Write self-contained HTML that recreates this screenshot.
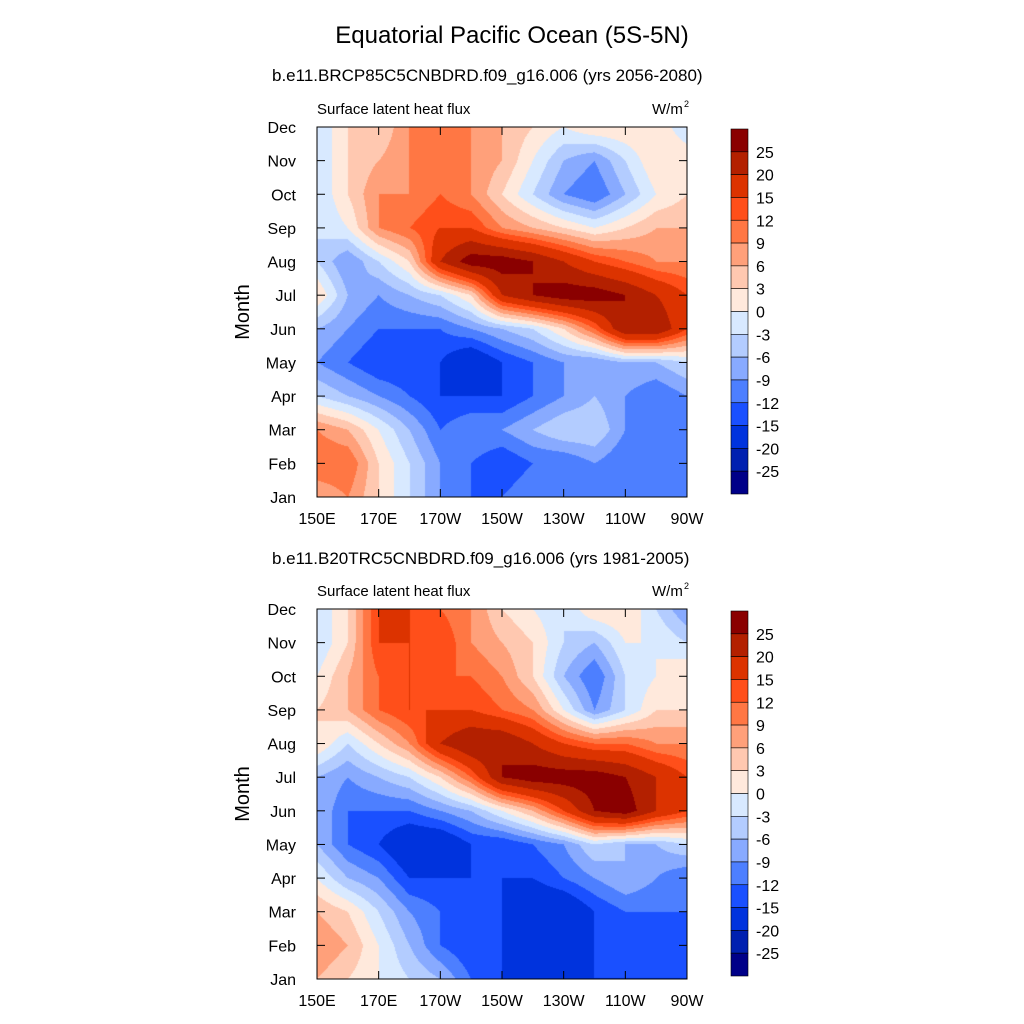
<!DOCTYPE html>
<html><head><meta charset="utf-8">
<style>
body{margin:0;background:#fff;font-family:"Liberation Sans",sans-serif;}
#root{position:relative;width:1024px;height:1024px;overflow:hidden;}
.t{position:absolute;white-space:nowrap;color:#000;}
canvas{position:absolute;}
svg{position:absolute;left:0;top:0;}
</style></head>
<body><div id="root">
<div class="t" style="left:0;width:1024px;text-align:center;top:22px;font-size:24px;">Equatorial Pacific Ocean (5S-5N)</div>
<div class="t" style="left:272px;top:66px;font-size:17px;">b.e11.BRCP85C5CNBDRD.f09_g16.006 (yrs 2056-2080)</div>
<div class="t" style="left:272px;top:549px;font-size:17px;">b.e11.B20TRC5CNBDRD.f09_g16.006 (yrs 1981-2005)</div>
<canvas id="c0" width="370" height="370" style="left:317px;top:127px"></canvas>
<canvas id="c1" width="370" height="370" style="left:317px;top:609px"></canvas>
<svg id="ov" width="1024" height="1024"></svg>
</div>
<script>
const months=["Jan","Feb","Mar","Apr","May","Jun","Jul","Aug","Sep","Oct","Nov","Dec"];
const lons=[150,160,170,180,190,200,210,220,230,240,250,260,270];
const xTickLons=[150,170,190,210,230,250,270];
const xTickLabels=["150E","170E","170W","150W","130W","110W","90W"];
const levels=[-25,-20,-15,-12,-9,-6,-3,0,3,6,9,12,15,20,25];
const levelLabels=["25","20","15","12","9","6","3","0","-3","-6","-9","-12","-15","-20","-25"];
const colors=["#000088","#0020b0","#0033dd","#1a50ff","#4d7fff","#88aaff","#b3ccff","#d8e9ff","#ffe9dc","#ffc8b0","#ffa07a","#ff7744","#ff4f1a","#dc3300","#b32000","#8a0000"];
const topValues=[
[6,9,3,-3,-9,-12,-12,-9,-12,-12,-12,-12,-9],
[12,12,3,-3,-9,-12,-15,-12,-12,-9,-12,-12,-9],
[9,6,0,-6,-12,-9,-9,-6,-3,-3,-9,-12,-9],
[-3,-6,-9,-12,-15,-15,-15,-12,-9,-6,-9,-12,-9],
[-9,-12,-15,-15,-15,-20,-15,-12,-9,-9,-6,-6,-3],
[-6,-9,-12,-12,-12,-9,-6,-3,3,12,25,25,15],
[3,-6,-9,-6,-3,3,20,25,28,28,25,20,15],
[-3,-9,-3,3,20,28,28,25,20,15,12,9,9],
[-3,0,9,12,15,15,9,6,3,0,3,6,6],
[-3,3,9,9,12,9,3,-3,-9,-12,-6,0,3],
[-3,3,6,9,12,9,6,0,-6,-9,-3,3,3],
[-3,3,3,9,12,9,6,3,0,3,3,3,-3]];
const bottomValues=[
[6,3,0,-3,-6,-12,-15,-15,-15,-15,-15,-15,-15],
[9,6,0,-6,-12,-15,-15,-20,-20,-15,-15,-15,-15],
[6,3,-3,-9,-12,-15,-15,-20,-20,-15,-12,-12,-12],
[0,-6,-9,-15,-15,-15,-15,-15,-12,-9,-6,-9,-12],
[-6,-12,-15,-20,-20,-15,-15,-12,-9,-3,-6,-6,-3],
[-6,-12,-12,-12,-9,-6,0,6,15,25,28,20,15],
[-6,-9,-6,-3,3,12,25,28,28,28,25,20,15],
[3,-3,3,9,20,25,25,20,15,12,12,9,9],
[3,6,12,15,15,15,12,9,0,-9,-3,3,3],
[0,6,12,15,12,12,9,3,-6,-12,-3,0,3],
[-3,3,15,15,15,9,6,3,-3,-6,0,0,-3],
[-3,3,15,15,12,9,3,0,-3,3,3,-3,-9]];

const W=370,H=370;
function xScale(lon){return (lon-150)/120*W;}
function yScale(m){return H-(m/11)*H;}
function colorFor(v){let i=0;while(i<levels.length&&v>=levels[i])i++;return colors[i];}
function hex(c){return [parseInt(c.substr(1,2),16),parseInt(c.substr(3,2),16),parseInt(c.substr(5,2),16)];}
function draw(id,data){
  const ctx=document.getElementById(id).getContext('2d');
  const img=ctx.createImageData(W,H);
  for(let py=0;py<H;py++){
    const m=(H-py-0.5)/H*11;
    const j=Math.min(Math.floor(m),10),fy=m-j;
    for(let px=0;px<W;px++){
      const lon=150+(px+0.5)/W*120;
      const gi=(lon-lons[0])/(lons[1]-lons[0]);
      const i=Math.min(Math.floor(gi),lons.length-2),fx=gi-i;
      const v=(data[j][i]*(1-fx)+data[j][i+1]*fx)*(1-fy)+(data[j+1][i]*(1-fx)+data[j+1][i+1]*fx)*fy;
      const c=hex(colorFor(v));const k=(py*W+px)*4;
      img.data[k]=c[0];img.data[k+1]=c[1];img.data[k+2]=c[2];img.data[k+3]=255;
    }
  }
  ctx.putImageData(img,0,0);
}
draw('c0',topValues);draw('c1',bottomValues);

const ov=document.getElementById('ov');const NS="http://www.w3.org/2000/svg";
function el(tag,a,txt){const e=document.createElementNS(NS,tag);for(const k in a)e.setAttribute(k,a[k]);if(txt!==undefined)e.textContent=txt;ov.appendChild(e);return e;}
function panel(x0,y0,cbTop,name){
  let e=el('rect',{x:x0,y:y0,width:W,height:H,fill:'none',stroke:'#000','stroke-width':1});
  
  
  xTickLons.forEach((lon,i)=>{
    const x=x0+xScale(lon);
    el('line',{x1:x,x2:x,y1:y0+H,y2:y0+H-8,stroke:'#000'});
    el('line',{x1:x,x2:x,y1:y0,y2:y0+8,stroke:'#000'});
    const t=el('text',{x:x,y:y0+H+27,'font-size':16,'text-anchor':'middle','font-family':'Liberation Sans'},xTickLabels[i]);
    
    
  });
  months.forEach((mo,m)=>{
    const y=y0+yScale(m);
    el('line',{x1:x0,x2:x0+8,y1:y,y2:y,stroke:'#000'});
    el('line',{x1:x0+W,x2:x0+W-8,y1:y,y2:y,stroke:'#000'});
    const t=el('text',{x:x0-21,y:y+6,'font-size':16,'text-anchor':'end','font-family':'Liberation Sans'},mo);
    
    
  });
  const yt=el('text',{x:0,y:0,'font-size':20,'text-anchor':'middle','font-family':'Liberation Sans',transform:`translate(249,${y0+H/2}) rotate(-90)`},'Month');
  
  
  const lt=el('text',{x:x0,y:y0-13,'font-size':15,'font-family':'Liberation Sans'},'Surface latent heat flux');
  
  
  const ut=el('text',{x:x0+W-35,y:y0-13,'font-size':15,'font-family':'Liberation Sans'},'W/m');
  
  
  el('text',{x:x0+W-3,y:y0-20,'font-size':9,'font-family':'Liberation Sans'},'2');
  const bh=365/colors.length;
  for(let i=0;i<colors.length;i++){
    const r=el('rect',{x:731,y:cbTop+i*bh,width:17,height:bh,fill:colors[colors.length-1-i],stroke:'#000','stroke-width':0.6});
    
    
  }
  levelLabels.forEach((l,i)=>{
    const t=el('text',{x:756,y:cbTop+(i+1)*bh+6,'font-size':16,'font-family':'Liberation Sans'},l);
    
    
  });
}
panel(317,127,129,'top');
panel(317,609,611,'bottom');
</script>
</body></html>
